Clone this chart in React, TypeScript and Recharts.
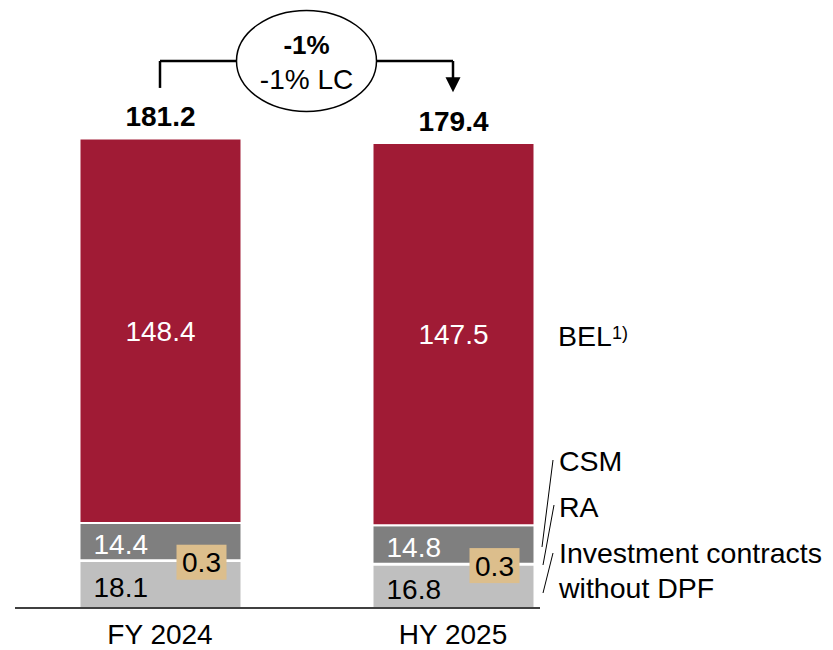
import { BarChart, Bar, XAxis, YAxis, LabelList, ReferenceLine, ReferenceDot, Customized } from 'recharts';

const FONT = '"Liberation Sans", Arial, sans-serif';

// Reserves by component, in EUR bn
const periods = ['FY 2024', 'HY 2025'];
const investmentContracts = [18.1, 16.8];
const riskAdjustment = [0.3, 0.3];
const csm = [14.4, 14.8];
const bel = [148.4, 147.5];
const totals = [181.2, 179.4];

const changeLabel = '-1%';
const changeLcLabel = '-1% LC';

const COLORS = {
  bel: '#A01B35',
  csm: '#7F7F7F',
  ra: '#DCBE8C',
  investment: '#BFBFBF',
};

const data = periods.map((period, i) => ({
  period,
  investment: investmentContracts[i],
  ra: riskAdjustment[i],
  csm: csm[i],
  bel: bel[i],
  total: totals[i],
}));

// bracket levels above the bars (value units)
const BRACKET_Y = 211.1;
const BRACKET_LEFT_END = 200.7;
const ARROW_TIP = 199.0;

const insideLeft = (fill: string) => (props: any) => {
  const { x, y, height, value } = props;
  return (
    <text x={x + 14} y={y + height / 2 + 12.5} fill={fill} fontSize={28} fontFamily={FONT}>
      {value}
    </text>
  );
};

const centerLabel = (props: any) => {
  const { x, y, width, height, value } = props;
  return (
    <text x={x + width / 2} y={y + height / 2 + 10} fill="#fff" fontSize={28} fontFamily={FONT} textAnchor="middle">
      {value}
    </text>
  );
};

const totalLabel = (props: any) => {
  const { x, y, width, value } = props;
  return (
    <text x={x + width / 2} y={y - 12} fill="#000" fontSize={28} fontWeight="bold" fontFamily={FONT} textAnchor="middle">
      {value}
    </text>
  );
};

const raBoxLabel = (props: any) => {
  const { x, y, height, value } = props;
  const cy = y + height / 2 + 1.5;
  const bx = x + 97;
  return (
    <g>
      <rect x={bx} y={cy - 17.5} width={50} height={35} fill={COLORS.ra} />
      <text x={bx + 25} y={cy + 10} fill="#000" fontSize={28} fontFamily={FONT} textAnchor="middle">
        {value}
      </text>
    </g>
  );
};

const changeBubble = (props: any) => {
  const vb = props.viewBox;
  const cx = vb.x + vb.width / 2;
  const cy = vb.y + vb.height / 2;
  return (
    <g>
      <ellipse cx={cx} cy={cy} rx={70} ry={50.5} fill="#fff" stroke="#000" strokeWidth={1.5} />
      <text x={cx} y={cy - 6.5} fontSize={26} fontWeight="bold" fontFamily={FONT} textAnchor="middle" fill="#000">
        {changeLabel}
      </text>
      <text x={cx} y={cy + 28} fontSize={28} fontFamily={FONT} textAnchor="middle" fill="#000">
        {changeLcLabel}
      </text>
    </g>
  );
};

const arrowHead = (props: any) => {
  const { cx, cy } = props;
  return <polygon points={`${cx - 7.5},${cy - 15} ${cx + 7.5},${cy - 15} ${cx},${cy}`} fill="#000" />;
};

// component names on the right with leader lines
const SideNotes = () => (
  <g fontFamily={FONT} fontSize={28.5} fill="#000">
    <text x={558} y={346}>
      BEL
      <tspan fontSize={18} dy={-7}>1)</tspan>
    </text>
    <text x={559} y={471}>CSM</text>
    <text x={559} y={517}>RA</text>
    <text x={559} y={563}>Investment contracts</text>
    <text x={559} y={598}>without DPF</text>
    <line x1={553} y1={460} x2={542} y2={547} stroke="#000" strokeWidth={1} />
    <line x1={554} y1={505} x2={543} y2={565} stroke="#000" strokeWidth={1} />
    <line x1={553} y1={553} x2={543} y2={593} stroke="#000" strokeWidth={1} />
  </g>
);

export default function App() {
  return (
    <div style={{ position: 'absolute', left: 0, top: 0, width: 833, height: 650, background: '#fff' }}>
      <BarChart width={833} height={650} data={data} margin={{ top: 12, right: 293, bottom: 0, left: 15 }}>
        <XAxis
          dataKey="period"
          height={42}
          padding={{ left: -1.5, right: -59.5 }}
          tickLine={false}
          tickSize={6}
          tickMargin={10}
          axisLine={{ stroke: '#000', strokeWidth: 1.5 }}
          tick={{ fontSize: 28, fill: '#000', fontFamily: FONT }}
        />
        <YAxis hide domain={[0, 230]} />
        <Bar dataKey="investment" stackId="a" fill={COLORS.investment} stroke="#fff" strokeWidth={2} barSize={162} isAnimationActive={false}>
          <LabelList dataKey="investment" content={insideLeft('#000')} />
        </Bar>
        <Bar dataKey="ra" stackId="a" fill={COLORS.ra} stroke="#fff" strokeWidth={2} barSize={162} isAnimationActive={false}>
          <LabelList dataKey="ra" content={raBoxLabel} />
        </Bar>
        <Bar dataKey="csm" stackId="a" fill={COLORS.csm} stroke="#fff" strokeWidth={2} barSize={162} isAnimationActive={false}>
          <LabelList dataKey="csm" content={insideLeft('#fff')} />
        </Bar>
        <Bar dataKey="bel" stackId="a" fill={COLORS.bel} stroke="#fff" strokeWidth={2} barSize={162} isAnimationActive={false}>
          <LabelList dataKey="bel" content={centerLabel} />
          <LabelList dataKey="total" content={totalLabel} />
        </Bar>
        <ReferenceLine
          segment={[{ x: periods[0], y: BRACKET_LEFT_END }, { x: periods[0], y: BRACKET_Y }]}
          stroke="#000"
          strokeWidth={2.5}
        />
        <ReferenceLine
          segment={[{ x: periods[1], y: ARROW_TIP + 3 }, { x: periods[1], y: BRACKET_Y }]}
          stroke="#000"
          strokeWidth={2.5}
        />
        <ReferenceLine
          segment={[{ x: periods[0], y: BRACKET_Y }, { x: periods[1], y: BRACKET_Y }]}
          stroke="#000"
          strokeWidth={2.5}
          label={changeBubble}
        />
        <ReferenceDot x={periods[1]} y={ARROW_TIP} r={8} shape={arrowHead} />
        <Customized component={<SideNotes />} />
      </BarChart>
    </div>
  );
}
